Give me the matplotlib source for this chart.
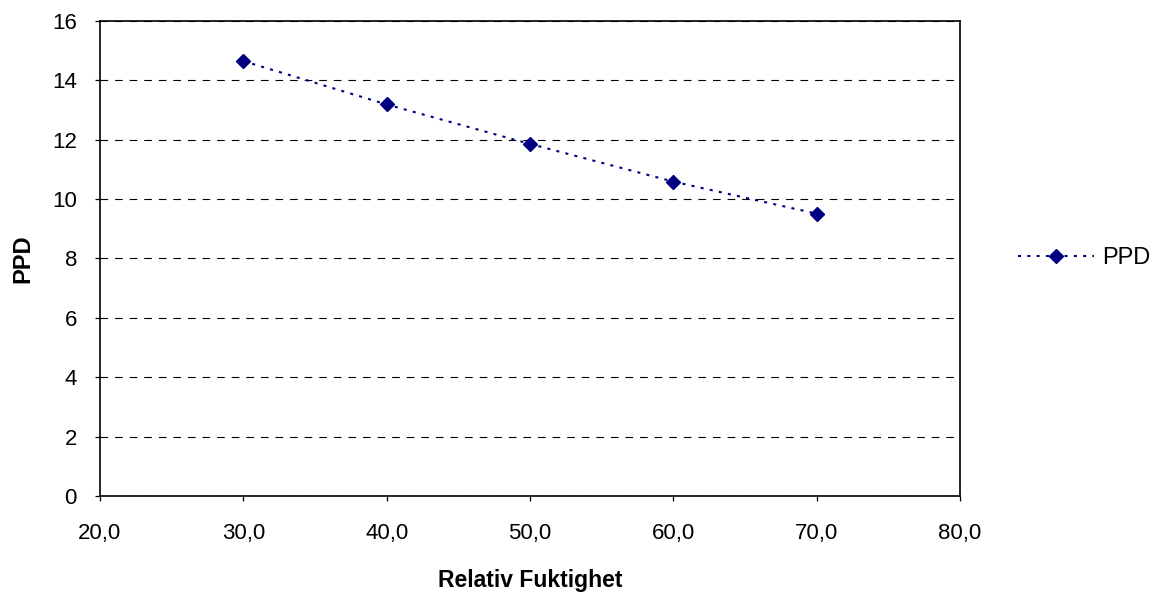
import matplotlib
matplotlib.use("Agg")
import matplotlib.pyplot as plt
from matplotlib.ticker import FuncFormatter, MultipleLocator

plt.rcParams['font.family'] = ['Liberation Sans', 'DejaVu Sans']
plt.rcParams['lines.scale_dashes'] = False

# relative humidity vs predicted percentage dissatisfied
humidity = [30.0, 40.0, 50.0, 60.0, 70.0]
ppd = [14.65, 13.19, 11.86, 10.59, 9.51]

fig = plt.figure(figsize=(11.61, 5.92), dpi=100)
ax = fig.add_axes([0.0861, 0.1622, 0.7408, 0.8023])

ax.plot(humidity, ppd, color='#000080', linestyle=(0, (2.2, 4.5)), linewidth=1.5,
        marker='D', markersize=7.5, markerfacecolor='#000080',
        markeredgecolor='#000080', label='PPD')

ax.set_xlim(20, 80)
ax.set_ylim(0, 16)
ax.xaxis.set_major_locator(MultipleLocator(10))
ax.yaxis.set_major_locator(MultipleLocator(2))
ax.xaxis.set_major_formatter(FuncFormatter(lambda v, p: f"{v:.1f}".replace('.', ',')))
ax.yaxis.set_major_formatter(FuncFormatter(lambda v, p: f"{v:.0f}"))

ax.grid(axis='y', color='black', linestyle=(0, (5.5, 5)), linewidth=0.8)
ax.set_axisbelow(True)
for s in ax.spines.values():
    s.set_linewidth(1.2)
    s.set_color('black')
ax.tick_params(direction='out', length=3.6, width=0.9, labelsize=16)
ax.tick_params(axis='x', pad=16)
ax.tick_params(axis='y', pad=13)

ax.set_xlabel('Relativ Fuktighet', fontsize=16.5, fontweight='bold', labelpad=18)
ax.set_ylabel('PPD', fontsize=17, fontweight='bold', labelpad=13)

ax.legend(loc='center left', bbox_to_anchor=(1.043, 0.5), frameon=False,
          fontsize=17, handlelength=3.2, handletextpad=0.35)

fig.savefig('out.png', dpi=100)
